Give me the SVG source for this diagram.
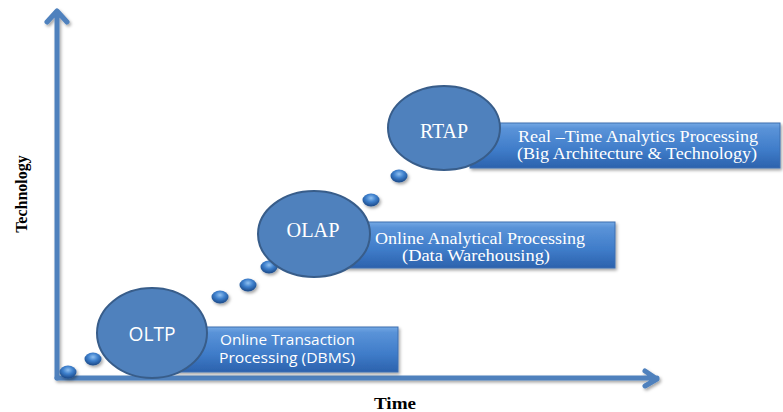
<svg xmlns="http://www.w3.org/2000/svg" width="783" height="412" viewBox="0 0 783 412">
<defs>
<linearGradient id="rg" x1="0" y1="0" x2="0" y2="1">
<stop offset="0" stop-color="#74a8e4"/>
<stop offset="0.12" stop-color="#5a93d8"/>
<stop offset="0.6" stop-color="#3f7cc9"/>
<stop offset="1" stop-color="#2c62ad"/>
</linearGradient>
<radialGradient id="bg" cx="0.5" cy="0.35" r="0.6">
<stop offset="0" stop-color="#8fc0f0"/>
<stop offset="0.5" stop-color="#3d7fcc"/>
<stop offset="1" stop-color="#1f4f8f"/>
</radialGradient>
<filter id="sh" x="-10%" y="-10%" width="130%" height="140%">
<feDropShadow dx="1.5" dy="2" stdDeviation="1.5" flood-color="#000" flood-opacity="0.35"/>
</filter>
<style>
.ax{stroke:#4f81bd;stroke-width:5;fill:none;stroke-linecap:round;stroke-linejoin:round}
.circ{fill:#4f81bd;stroke:#385d8a;stroke-width:2}
.rect{fill:url(#rg);stroke:#3d6eb0;stroke-width:1}
.ball{fill:url(#bg)}
.lbl{fill:#fff;font-size:20px;text-anchor:middle}
.desc{fill:#fff;font-size:16px}
.sans{font-family:"Open Sans","Liberation Sans",sans-serif}
.serif{font-family:"Liberation Serif",serif}
.axl{font-family:"Liberation Serif",serif;font-weight:bold;font-size:16px;fill:#000;text-anchor:middle}
</style>
</defs>
<g id="connectors" filter="url(#sh)">
<path class="ax" d="M57,378 V11 M47,22 L57,11 L67,22"/>
<path class="ax" d="M57,378 H657 M645,371 L657,379 L645,386"/>
</g>
<text class="axl" transform="translate(27,194) rotate(-90)">Technology</text>
<text class="axl" x="395" y="409" textLength="42" lengthAdjust="spacingAndGlyphs">Time</text>
<g id="balls" filter="url(#sh)">
<ellipse class="ball" cx="68" cy="372" rx="8.5" ry="6.5"/>
<ellipse class="ball" cx="93" cy="359" rx="8.5" ry="6.5"/>
<ellipse class="ball" cx="220" cy="297" rx="8.5" ry="6.5"/>
<ellipse class="ball" cx="248" cy="285" rx="8.5" ry="6.5"/>
<ellipse class="ball" cx="269" cy="267" rx="8.5" ry="6.5"/>
<ellipse class="ball" cx="371" cy="200" rx="8.5" ry="6.5"/>
<ellipse class="ball" cx="399" cy="176" rx="8.5" ry="6.5"/>
</g>
<g id="oltp">
<rect class="rect" x="175" y="327" width="223" height="45" filter="url(#sh)"/>
<ellipse class="circ" cx="152" cy="333" rx="55" ry="45"/>
<text class="lbl sans" x="152" y="341" textLength="47" lengthAdjust="spacingAndGlyphs">OLTP</text>
<text class="desc sans" x="220" y="345" style="font-size:14.5px" textLength="135" lengthAdjust="spacingAndGlyphs">Online Transaction</text>
<text class="desc sans" x="219" y="363" style="font-size:14.5px" textLength="136" lengthAdjust="spacingAndGlyphs">Processing (DBMS)</text>
</g>
<g id="olap">
<rect class="rect" x="340" y="222" width="275" height="46" filter="url(#sh)"/>
<ellipse class="circ" cx="314" cy="234" rx="56" ry="43"/>
<text class="lbl serif" x="313" y="237" textLength="53" lengthAdjust="spacingAndGlyphs">OLAP</text>
<text class="desc serif" x="375" y="244" textLength="210" lengthAdjust="spacingAndGlyphs">Online Analytical Processing</text>
<text class="desc serif" x="402" y="261" textLength="148" lengthAdjust="spacingAndGlyphs">(Data Warehousing)</text>
</g>
<g id="rtap">
<rect class="rect" x="470" y="123" width="310" height="45" filter="url(#sh)"/>
<ellipse class="circ" cx="444" cy="128" rx="56" ry="42"/>
<text class="lbl serif" x="444" y="138" textLength="48" lengthAdjust="spacingAndGlyphs">RTAP</text>
<text class="desc serif" x="518" y="142" textLength="240" lengthAdjust="spacingAndGlyphs">Real –Time Analytics Processing</text>
<text class="desc serif" x="517" y="159" textLength="240" lengthAdjust="spacingAndGlyphs">(Big Architecture &amp; Technology)</text>
</g>
</svg>
